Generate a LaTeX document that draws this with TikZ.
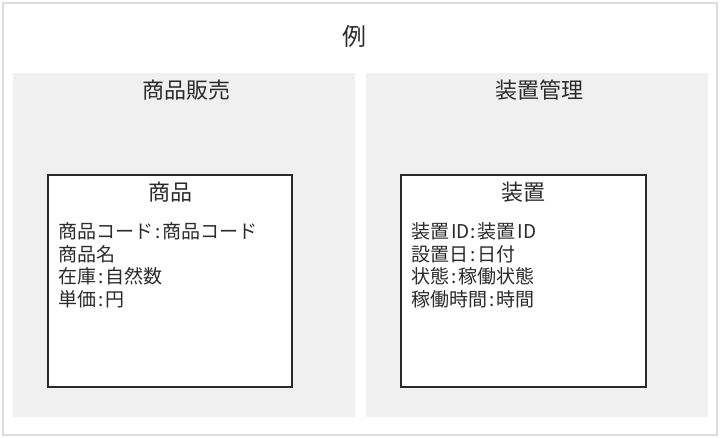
\documentclass[tikz,border=0pt]{standalone}
\usepackage{fontspec}
\setmainfont{Noto Sans CJK JP}
\definecolor{panelgray}{HTML}{F0F0F0}
\definecolor{outerline}{HTML}{DCDCDC}
\definecolor{boxline}{HTML}{2A2A2A}
\definecolor{txt}{HTML}{2B2B2B}
\newcommand{\hwc}[1]{\makebox[0.5em][c]{#1}}
\tikzset{
  panel/.style={fill=panelgray, draw=none},
  entbox/.style={fill=white, draw=boxline, line width=1.3pt},
  ttl/.style={text=txt, inner sep=0pt, font=\fontsize{24}{28}\selectfont},
  ptitle/.style={text=txt, inner sep=0pt, font=\fontsize{22}{26}\selectfont},
  btitle/.style={text=txt, inner sep=0pt, font=\fontsize{22}{26}\selectfont},
  attr/.style={text=txt, inner sep=0pt, anchor=base west, font=\fontsize{19}{22}\selectfont},
}
\begin{document}
\begin{tikzpicture}[x=1pt,y=-1pt]
\useasboundingbox (0,0) rectangle (720,438);
\fill[white] (0,0) rectangle (720,438);
\draw[outerline, line width=1.5pt] (3,3) rectangle (717,435);
\node[ttl] (title) at (354,36) {例};
% panels
\fill[panel] (13,73) rectangle (355,417);
\fill[panel] (366,73) rectangle (708,417);
\node[ptitle] (p1) at (186,90.5) {商品販売};
\node[ptitle] (p2) at (539,90.5) {装置管理};
% boxes
\draw[entbox] (48,175) rectangle (292,387);
\draw[entbox] (401,175) rectangle (646,387);
\node[btitle] (b1) at (170,192) {商品};
\node[btitle] (b2) at (523,192) {装置};
% attributes left
\node[attr] (a1) at (58,239) {商品コード\hwc{:}商品コード};
\node[attr] (a2) at (58,261.3) {商品名};
\node[attr] (a3) at (58,283.6) {在庫\hwc{:}自然数};
\node[attr] (a4) at (58,306) {単価\hwc{:}円};
% attributes right
\node[attr] (c1) at (411,239) {装置\hwc{I}\hwc{D}\hwc{:}装置\hwc{I}\hwc{D}};
\node[attr] (c2) at (411,261.3) {設置日\hwc{:}日付};
\node[attr] (c3) at (411,283.6) {状態\hwc{:}稼働状態};
\node[attr] (c4) at (411,306) {稼働時間\hwc{:}時間};
\end{tikzpicture}
\end{document}
